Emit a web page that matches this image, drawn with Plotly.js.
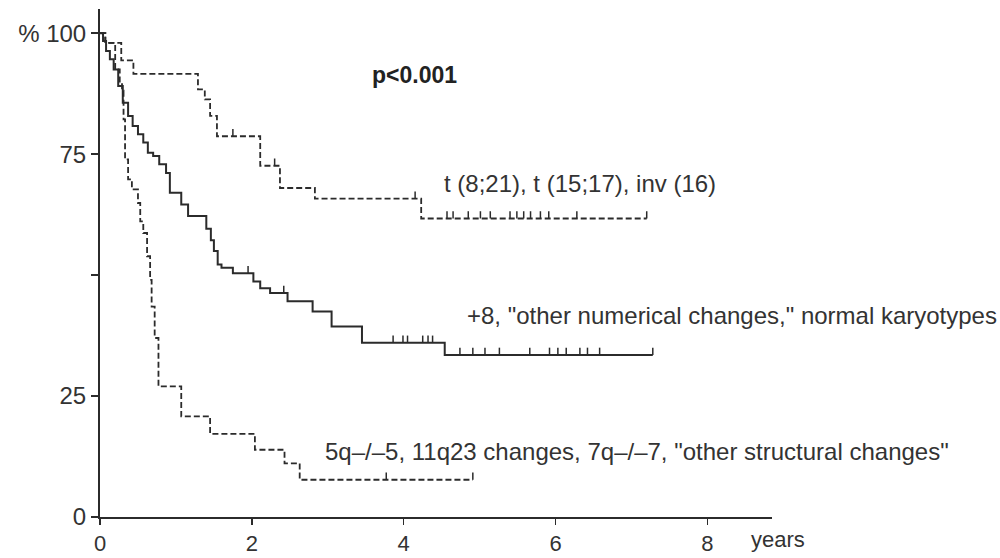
<!DOCTYPE html>
<html>
<head>
<meta charset="utf-8">
<script src="https://cdn.plot.ly/plotly-3.0.1.min.js"></script>
<style>
  html, body { margin: 0; padding: 0; background: #fff; }
  #chart { width: 1000px; height: 558px; }
</style>
</head>
<body>
<div id="chart"></div>
<script>
// Kaplan-Meier survival by karyotype group (years vs % surviving)

// Favourable: t(8;21), t(15;17), inv(16)
const favTimes = [0, 0.07, 0.28, 0.44, 1.29, 1.38, 1.45, 1.54, 2.11, 2.37, 2.83, 4.23, 7.20];
const favSurv  = [100, 98.0, 94.4, 91.6, 88.4, 86.3, 82.9, 78.7, 72.6, 68.0, 65.8, 61.7, 61.7];
const favCensor = [1.75, 2.30, 4.15, 4.57, 4.65, 4.85, 5.01, 5.14, 5.40, 5.49, 5.58, 5.67, 5.80, 5.91, 6.28, 7.20];

// Intermediate: +8, other numerical changes, normal karyotypes
const intTimes = [0, 0.04, 0.08, 0.13, 0.18, 0.24, 0.30, 0.37, 0.43, 0.50, 0.57, 0.63, 0.70, 0.78, 0.87, 0.92,
                  1.07, 1.16, 1.40, 1.46, 1.50, 1.55, 1.60, 1.75, 2.02, 2.11, 2.24, 2.47, 2.80, 3.05, 3.45, 4.54, 7.28];
const intSurv  = [100, 98.4, 96.3, 94.6, 92.5, 89.1, 85.6, 82.9, 80.8, 79.1, 77.4, 75.3, 74.6, 72.9, 71.1, 67.0,
                  64.6, 62.2, 59.6, 57.2, 55.0, 52.2, 51.5, 50.4, 48.7, 47.3, 46.3, 44.6, 42.5, 39.4, 36.0, 33.5, 33.5];
const intCensor = [1.95, 2.42, 3.86, 3.99, 4.05, 4.25, 4.32, 4.38, 4.74, 4.91, 5.07, 5.26, 5.66, 5.92, 6.03,
                   6.14, 6.32, 6.42, 6.58, 7.28];

// Unfavourable: 5q-/-5, 11q23, 7q-/-7, other structural changes
const unfTimes = [0, 0.07, 0.20, 0.26, 0.29, 0.31, 0.33, 0.37, 0.42, 0.50, 0.53, 0.57, 0.62, 0.66, 0.68, 0.72,
                  0.77, 1.07, 1.45, 2.04, 2.43, 2.63, 4.91];
const unfSurv  = [100, 98.0, 92.5, 89.8, 88.1, 82.2, 73.9, 69.8, 67.7, 64.9, 61.1, 58.7, 53.9, 49.0, 43.5, 37.0,
                  27.0, 20.8, 17.2, 13.9, 11.1, 7.7, 7.7];
const unfCensor = [3.77, 4.91];

const xTicks = [0, 2, 4, 6, 8];
const xTickLabels = ['0', '2', '4', '6', '8'];
const yTicks = [0, 25, 50, 75, 100];
const yTickLabels = ['0', '25', '', '75', '% 100'];

const groupLabels = {
  fav: 't (8;21), t (15;17), inv (16)',
  int: '+8, "other numerical changes," normal karyotypes',
  unf: '5q\u2013/\u20135, 11q23 changes, 7q\u2013/\u20137, "other structural changes"'
};
const pLabel = '<b>p<0.001</b>';

const ink = '#2b2b2b';
const fontFamily = 'Liberation Sans, Arial, Helvetica, sans-serif';

// survival value of a step curve at time t
function survivalAt(times, surv, t) {
  let v = surv[0];
  for (let i = 0; i < times.length; i++) {
    if (times[i] <= t + 1e-9) v = surv[i]; else break;
  }
  return v;
}

function curve(times, surv, dash) {
  return {
    x: times, y: surv, type: 'scatter', mode: 'lines',
    line: { shape: 'hv', color: ink, width: dash ? 1.8 : 2, dash: dash ? '6px,3px' : 'solid' },
    hoverinfo: 'skip', showlegend: false
  };
}

function censorMarks(times, surv, censor) {
  return {
    x: censor, y: censor.map(t => survivalAt(times, surv, t)),
    type: 'scatter', mode: 'markers',
    marker: { size: 1, color: 'rgba(0,0,0,0)' },
    error_y: { type: 'constant', value: 1.5, valueminus: 0, symmetric: false,
               width: 0, thickness: 1.5, color: ink },
    hoverinfo: 'skip', showlegend: false
  };
}

const data = [
  curve(favTimes, favSurv, true),
  curve(intTimes, intSurv, false),
  curve(unfTimes, unfSurv, true),
  censorMarks(favTimes, favSurv, favCensor),
  censorMarks(intTimes, intSurv, intCensor),
  censorMarks(unfTimes, unfSurv, unfCensor)
];

const textFont = { family: fontFamily, size: 24, color: '#333' };
const tickFont = { family: fontFamily, size: 22, color: '#333' };

const layout = {
  width: 1000, height: 558,
  margin: { l: 100, r: 228, t: 9, b: 41 },
  paper_bgcolor: '#fff', plot_bgcolor: '#fff',
  font: textFont,
  xaxis: {
    range: [0, 8.85], tickvals: xTicks, ticktext: xTickLabels,
    ticks: 'outside', ticklen: 6, tickwidth: 1.5, tickcolor: ink,
    showline: true, linecolor: ink, linewidth: 2,
    showgrid: false, zeroline: false, tickfont: tickFont, fixedrange: true
  },
  yaxis: {
    range: [0, 105], tickvals: yTicks, ticktext: yTickLabels,
    ticks: 'outside', ticklen: 7, tickwidth: 1.5, tickcolor: ink,
    showline: true, linecolor: ink, linewidth: 2,
    showgrid: false, zeroline: false, tickfont: textFont, fixedrange: true
  },
  annotations: [
    { x: 3.56, y: 91.3, xref: 'x', yref: 'y', text: pLabel, showarrow: false,
      xanchor: 'left', yanchor: 'middle', font: { family: fontFamily, size: 23, color: '#222' } },
    { x: 4.50, y: 69.0, xref: 'x', yref: 'y', text: groupLabels.fav, showarrow: false,
      xanchor: 'left', yanchor: 'middle', font: textFont },
    { x: 4.81, y: 41.7, xref: 'x', yref: 'y', text: groupLabels.int, showarrow: false,
      xanchor: 'left', yanchor: 'middle', font: textFont },
    { x: 2.94, y: 13.5, xref: 'x', yref: 'y', text: groupLabels.unf, showarrow: false,
      xanchor: 'left', yanchor: 'middle', font: textFont },
    { x: 8.55, y: 0, xref: 'x', yref: 'paper', text: 'years', showarrow: false,
      xanchor: 'left', yanchor: 'top', yshift: -8, font: tickFont }
  ]
};

Plotly.newPlot('chart', data, layout, { staticPlot: true, displayModeBar: false });
</script>
</body>
</html>
